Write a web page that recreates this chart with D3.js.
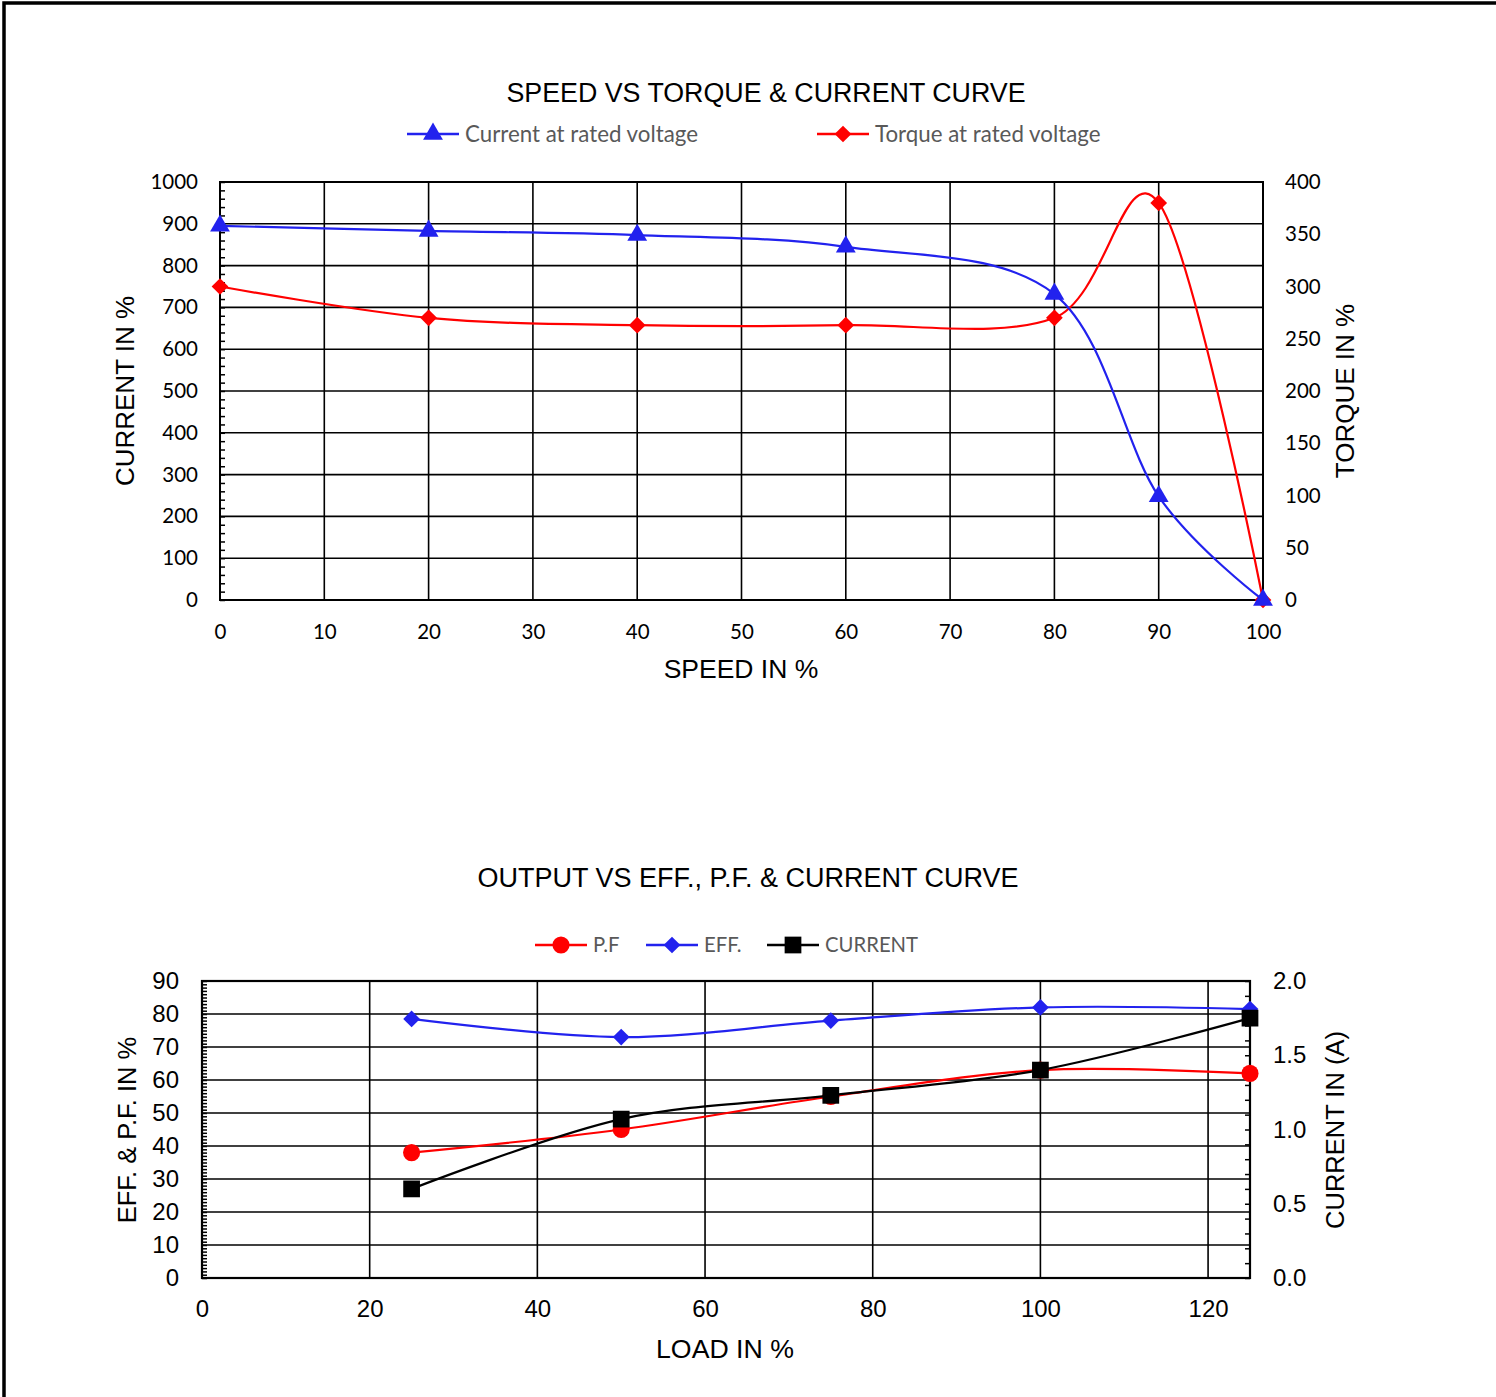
<!DOCTYPE html>
<html>
<head>
<meta charset="utf-8">
<script src="https://cdn.jsdelivr.net/npm/d3@7"></script>
<style>
  body { margin: 0; background: #fff; }
</style>
</head>
<body>
<div id="chart"></div>
<script>
// speed vs torque & current
let speed = [0, 20, 40, 60, 80, 90, 100];
let currentPct = [895, 883, 873, 845, 732, 248, 0];
let torquePct = [300, 270, 263, 263, 270, 380, 0];
let speedTicks = d3.range(0, 101, 10);
let currentTicks = d3.range(0, 1001, 100);
let torqueTicks = d3.range(0, 401, 50);

// output vs eff, pf & current
let load = [25, 50, 75, 100, 125];
let pf = [38, 45, 55, 63, 62];
let eff = [78.5, 73, 78, 82, 81.5];
let currentA = [0.6, 1.07, 1.23, 1.4, 1.75];
let loadTicks = [0, 20, 40, 60, 80, 100, 120];
let effTicks = d3.range(0, 91, 10);
let ampTicks = [0, 0.5, 1, 1.5, 2];

let width = 1496;
let height = 1397;
let arial = 'Liberation Sans, Arial, sans-serif';
let calibri = 'Lato, Carlito, sans-serif';

let svg = d3.select('#chart').append('svg')
    .attr('width', width)
    .attr('height', height);

// page frame
svg.append('path')
    .attr('d', 'M4,1400V3H1500')
    .attr('fill', 'none')
    .attr('stroke', '#000')
    .attr('stroke-width', 3.5);

let smooth = d3.curveCatmullRom.alpha(0);

function marker(g, type, x, y, color) {
    let sym;
    if (type == 'triangle') sym = d3.symbol().type(d3.symbolTriangle).size(170);
    else if (type == 'diamond') sym = d3.symbol().type(d3.symbolSquare).size(140);
    else if (type == 'circle') sym = d3.symbol().type(d3.symbolCircle).size(230);
    else sym = d3.symbol().type(d3.symbolSquare).size(280);
    g.append('path')
        .attr('d', sym())
        .attr('fill', color)
        .attr('transform', 'translate(' + x + ',' + y + ')' + (type == 'diamond' ? ' rotate(45)' : ''));
}

function series(g, xs, ys, x, y, color, type) {
    let line = d3.line().x(d => x(d[0])).y(d => y(d[1])).curve(smooth);
    let pts = xs.map((v, i) => [v, ys[i]]);
    g.append('path')
        .attr('d', line(pts))
        .attr('fill', 'none')
        .attr('stroke', color)
        .attr('stroke-width', 2.2);
    pts.forEach(p => marker(g, type, x(p[0]), y(p[1]), color));
}

function legendItem(g, x, y, color, type, label, size) {
    g.append('line')
        .attr('x1', x).attr('x2', x + 52)
        .attr('y1', y).attr('y2', y)
        .attr('stroke', color).attr('stroke-width', 2.5);
    marker(g, type, x + 26, y, color);
    g.append('text')
        .attr('x', x + 58).attr('y', y)
        .attr('dy', '0.35em')
        .attr('font-family', calibri)
        .attr('font-size', size)
        .attr('fill', '#595959')
        .text(label);
}

function styleAxis(sel, font, size) {
    sel.select('.domain').remove();
    sel.selectAll('text')
        .attr('font-family', font)
        .attr('font-size', size)
        .attr('fill', '#000');
    sel.selectAll('line').attr('stroke', '#000').attr('stroke-width', 1.5);
}

// ---------- top chart ----------
let topG = svg.append('g');
let x1 = d3.scaleLinear().domain([0, 100]).range([220, 1263]);
let yL = d3.scaleLinear().domain([0, 1000]).range([600, 182]);
let yR = d3.scaleLinear().domain([0, 400]).range([600, 182]);

topG.append('text')
    .attr('x', 766).attr('y', 93).attr('dy', '0.35em')
    .attr('text-anchor', 'middle')
    .attr('font-family', arial).attr('font-size', 26.8)
    .text('SPEED VS TORQUE & CURRENT CURVE');

legendItem(topG, 407, 134, '#2222ee', 'triangle', 'Current at rated voltage', 22.3);
legendItem(topG, 817, 134, '#ff0000', 'diamond', 'Torque at rated voltage', 22.3);

topG.append('g').selectAll('line')
    .data(currentTicks.slice(1, -1))
    .join('line')
    .attr('x1', 220).attr('x2', 1263)
    .attr('y1', d => yL(d)).attr('y2', d => yL(d))
    .attr('stroke', '#000').attr('stroke-width', 1.6);

topG.append('g').selectAll('line')
    .data(speedTicks.slice(1, -1))
    .join('line')
    .attr('x1', d => x1(d)).attr('x2', d => x1(d))
    .attr('y1', 182).attr('y2', 600)
    .attr('stroke', '#000').attr('stroke-width', 1.6);

topG.append('rect')
    .attr('x', 220).attr('y', 182)
    .attr('width', 1043).attr('height', 418)
    .attr('fill', 'none').attr('stroke', '#000').attr('stroke-width', 2);

topG.append('g')
    .attr('transform', 'translate(220,0)')
    .call(d3.axisRight(yL).tickValues(d3.range(0, 1001, 20)).tickSize(5).tickFormat(''))
    .call(s => styleAxis(s, calibri, 20));

topG.append('g')
    .attr('transform', 'translate(220,0)')
    .call(d3.axisLeft(yL).tickValues(currentTicks).tickSize(0).tickPadding(22).tickFormat(d3.format('d')))
    .call(s => styleAxis(s, calibri, 20.5));

topG.append('g')
    .attr('transform', 'translate(1263,0)')
    .call(d3.axisRight(yR).tickValues(torqueTicks).tickSize(0).tickPadding(22))
    .call(s => styleAxis(s, calibri, 20.5));

topG.append('g')
    .attr('transform', 'translate(0,600)')
    .call(d3.axisBottom(x1).tickValues(speedTicks).tickSize(0).tickPadding(24))
    .call(s => styleAxis(s, calibri, 20.5));

topG.append('text')
    .attr('transform', 'translate(125,391) rotate(-90)')
    .attr('dy', '0.35em').attr('text-anchor', 'middle')
    .attr('font-family', arial).attr('font-size', 26)
    .text('CURRENT IN %');

topG.append('text')
    .attr('transform', 'translate(1345,391) rotate(-90)')
    .attr('dy', '0.35em').attr('text-anchor', 'middle')
    .attr('font-family', arial).attr('font-size', 26)
    .text('TORQUE IN %');

topG.append('text')
    .attr('x', 741).attr('y', 669).attr('dy', '0.35em')
    .attr('text-anchor', 'middle')
    .attr('font-family', arial).attr('font-size', 26.5)
    .text('SPEED IN %');

series(topG, speed, torquePct, x1, yR, '#ff0000', 'diamond');
series(topG, speed, currentPct, x1, yL, '#2222ee', 'triangle');

// ---------- bottom chart ----------
let bot = svg.append('g');
let x2 = d3.scaleLinear().domain([0, 125]).range([202, 1250]);
let yE = d3.scaleLinear().domain([0, 90]).range([1278, 981]);
let yA = d3.scaleLinear().domain([0, 2]).range([1278, 981]);

bot.append('text')
    .attr('x', 748).attr('y', 878).attr('dy', '0.35em')
    .attr('text-anchor', 'middle')
    .attr('font-family', arial).attr('font-size', 27)
    .text('OUTPUT VS EFF., P.F. & CURRENT CURVE');

legendItem(bot, 535, 945, '#ff0000', 'circle', 'P.F', 20.3);
legendItem(bot, 646, 945, '#2222ee', 'diamond', 'EFF.', 20.3);
legendItem(bot, 767, 945, '#000000', 'square', 'CURRENT', 20.3);

bot.append('g').selectAll('line')
    .data(effTicks.slice(1, -1))
    .join('line')
    .attr('x1', 202).attr('x2', 1250)
    .attr('y1', d => yE(d)).attr('y2', d => yE(d))
    .attr('stroke', '#000').attr('stroke-width', 1.6);

bot.append('g').selectAll('line')
    .data(loadTicks.slice(1))
    .join('line')
    .attr('x1', d => x2(d)).attr('x2', d => x2(d))
    .attr('y1', 981).attr('y2', 1278)
    .attr('stroke', '#000').attr('stroke-width', 1.6);

bot.append('rect')
    .attr('x', 202).attr('y', 981)
    .attr('width', 1048).attr('height', 297)
    .attr('fill', 'none').attr('stroke', '#000').attr('stroke-width', 2.2);

bot.append('g')
    .attr('transform', 'translate(202,0)')
    .call(d3.axisRight(yE).tickValues(d3.range(0, 91, 1)).tickSize(5).tickFormat(''))
    .call(s => styleAxis(s, arial, 24));

bot.append('g')
    .attr('transform', 'translate(1250,0)')
    .call(d3.axisLeft(yA).tickValues(d3.range(0, 2.001, 0.1)).tickSize(5).tickFormat(''))
    .call(s => styleAxis(s, arial, 24));

bot.append('g')
    .attr('transform', 'translate(202,0)')
    .call(d3.axisLeft(yE).tickValues(effTicks).tickSize(0).tickPadding(23))
    .call(s => styleAxis(s, arial, 24));

bot.append('g')
    .attr('transform', 'translate(1250,0)')
    .call(d3.axisRight(yA).tickValues(ampTicks).tickSize(0).tickPadding(23).tickFormat(d3.format('.1f')))
    .call(s => styleAxis(s, arial, 24));

bot.append('g')
    .attr('transform', 'translate(0,1278)')
    .call(d3.axisBottom(x2).tickValues(loadTicks).tickSize(0).tickPadding(22))
    .call(s => styleAxis(s, arial, 24));

bot.append('text')
    .attr('transform', 'translate(127,1130) rotate(-90)')
    .attr('dy', '0.35em').attr('text-anchor', 'middle')
    .attr('font-family', arial).attr('font-size', 25.5)
    .text('EFF. & P.F. IN %');

bot.append('text')
    .attr('transform', 'translate(1335,1130) rotate(-90)')
    .attr('dy', '0.35em').attr('text-anchor', 'middle')
    .attr('font-family', arial).attr('font-size', 25.5)
    .text('CURRENT IN (A)');

bot.append('text')
    .attr('x', 725).attr('y', 1349).attr('dy', '0.35em')
    .attr('text-anchor', 'middle')
    .attr('font-family', arial).attr('font-size', 26.7)
    .text('LOAD IN %');

series(bot, load, pf, x2, yE, '#ff0000', 'circle');
series(bot, load, eff, x2, yE, '#2222ee', 'diamond');
series(bot, load, currentA, x2, yA, '#000000', 'square');
</script>
</body>
</html>
